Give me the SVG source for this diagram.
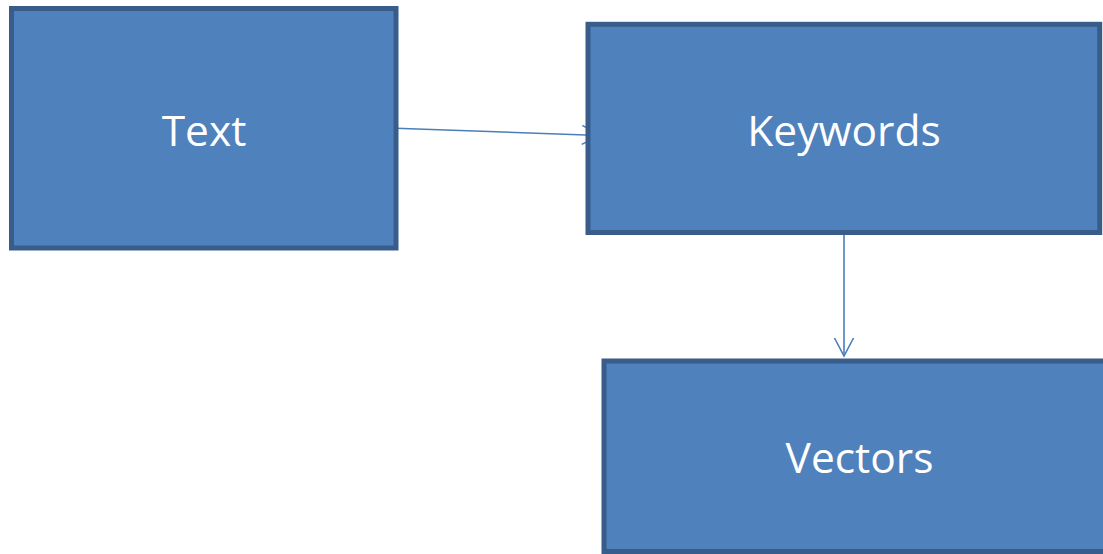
<svg xmlns="http://www.w3.org/2000/svg" width="1103" height="554" viewBox="0 0 1103 554">
  <style>
    .box { fill: #4f81bd; stroke: #385d8a; stroke-width: 5; }
    .lbl { font-family: "Open Sans", "Liberation Sans", sans-serif; font-size: 42.5px; fill: #ffffff; text-anchor: middle; }
    .conn { fill: none; stroke: #4a7ebb; stroke-width: 1.6; }
  </style>
  <defs>
    <marker id="arrow" markerUnits="userSpaceOnUse" markerWidth="22" markerHeight="24" refX="20" refY="11" orient="auto" overflow="visible">
      <path d="M2,1.5 L20,11 L2,20.5" fill="none" stroke="#4a7ebb" stroke-width="1.6"/>
    </marker>
  </defs>
  <rect width="1103" height="554" fill="#ffffff"/>
  <g id="connectors">
    <line class="conn" x1="396" y1="128.3" x2="600" y2="135.5" marker-end="url(#arrow)"/>
    <line class="conn" x1="844" y1="232" x2="844" y2="356" marker-end="url(#arrow)"/>
  </g>
  <g id="node-text">
    <rect class="box" x="11.5" y="8.5" width="384.5" height="239.5"/>
    <text class="lbl" x="204" y="145.7">Text</text>
  </g>
  <g id="node-keywords">
    <rect class="box" x="588" y="24.3" width="511.7" height="208.2"/>
    <text class="lbl" x="844" y="145.7">Keywords</text>
  </g>
  <g id="node-vectors">
    <rect class="box" x="604" y="361" width="520" height="190.5"/>
    <text class="lbl" x="859.5" y="473.3">Vectors</text>
  </g>
</svg>
